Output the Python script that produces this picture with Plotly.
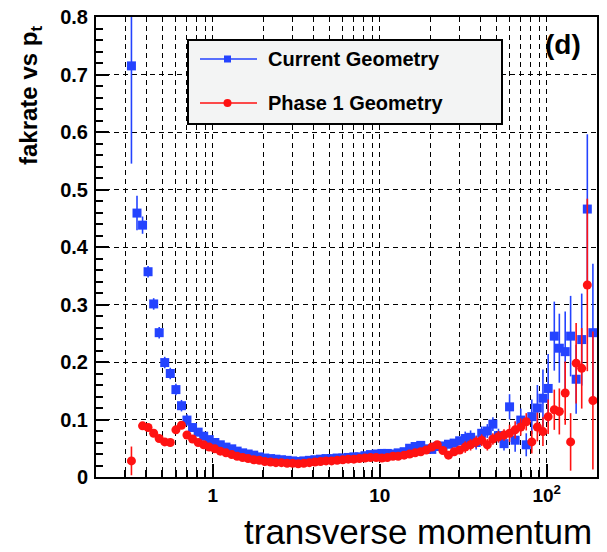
import math
import plotly.graph_objects as go

# ---------------- data ----------------
pt_bins = [0.326, 0.352, 0.380, 0.410, 0.443, 0.478, 0.516, 0.557, 0.602, 0.650,
           0.701, 0.757, 0.818, 0.883, 0.953, 1.03, 1.11, 1.20, 1.30, 1.40,
           1.51, 1.63, 1.76, 1.90, 2.05, 2.22, 2.39, 2.58, 2.79, 3.01,
           3.25, 3.51, 3.79, 4.09, 4.42, 4.77, 5.15, 5.56, 6.01, 6.48,
           7.00, 7.56, 8.16, 8.81, 9.52, 10.3, 11.1, 12.0, 12.9, 14.0,
           15.1, 16.3, 17.6, 19.0, 20.5, 22.1, 23.9, 25.8, 27.9, 30.1,
           32.5, 35.0, 37.8, 40.8, 44.1, 47.6, 51.4, 55.5, 59.9, 64.7,
           69.9, 75.4, 81.4, 87.9, 94.9, 102, 111, 119, 129, 139,
           150, 162, 175, 189]

current_rate = [0.715, 0.459, 0.438, 0.357, 0.301, 0.251, 0.199, 0.180, 0.152, 0.124,
                0.099, 0.086, 0.078, 0.071, 0.065, 0.060, 0.056, 0.052, 0.049, 0.045,
                0.042, 0.040, 0.038, 0.035, 0.033, 0.032, 0.031, 0.030, 0.029, 0.028,
                0.027, 0.028, 0.029, 0.030, 0.031, 0.032, 0.032, 0.033, 0.033, 0.034,
                0.035, 0.035, 0.037, 0.039, 0.040, 0.041, 0.041, 0.040, 0.042, 0.044,
                0.050, 0.053, 0.055, 0.049, 0.048, 0.053, 0.054, 0.057, 0.059, 0.063,
                0.067, 0.069, 0.060, 0.076, 0.080, 0.092, 0.072, 0.058, 0.122, 0.064,
                0.099, 0.056, 0.105, 0.120, 0.137, 0.154, 0.245, 0.224, 0.218, 0.245,
                0.170, 0.239, 0.466, 0.251]

current_err = [0.17, 0.03, 0.015, 0.01, 0.01, 0.01, 0.01, 0.01, 0.01, 0.01,
               0.01, 0.003, 0.003, 0.003, 0.003, 0.003, 0.003, 0.003, 0.003, 0.003,
               0.003, 0.003, 0.003, 0.003, 0.003, 0.003, 0.003, 0.003, 0.003, 0.003,
               0.003, 0.003, 0.003, 0.003, 0.003, 0.003, 0.003, 0.003, 0.003, 0.003,
               0.003, 0.003, 0.003, 0.003, 0.003, 0.003, 0.003, 0.003, 0.003, 0.003,
               0.006, 0.006, 0.006, 0.006, 0.006, 0.006, 0.006, 0.006, 0.006, 0.006,
               0.012, 0.012, 0.012, 0.012, 0.012, 0.012, 0.012, 0.012, 0.022, 0.02,
               0.02, 0.02, 0.03, 0.04, 0.05, 0.06, 0.06, 0.06, 0.07, 0.07,
               0.06, 0.08, 0.13, 0.12]

phase1_rate = [0.028, None, 0.089, 0.086, 0.076, 0.067, 0.061, 0.060, 0.082, 0.090,
               0.073, 0.066, 0.060, 0.056, 0.052, 0.049, 0.045, 0.042, 0.039, 0.036,
               0.034, 0.032, 0.030, 0.029, 0.027, 0.026, 0.025, 0.025, 0.024, 0.024,
               0.023, 0.024, 0.025, 0.026, 0.027, 0.028, 0.028, 0.029, 0.030, 0.031,
               0.031, 0.032, 0.033, 0.034, 0.034, 0.033, 0.034, 0.036, 0.036, 0.038,
               0.040, 0.042, 0.044, 0.047, 0.052, 0.056, 0.046, 0.038, 0.044, 0.047,
               0.052, 0.056, 0.061, 0.064, 0.056, 0.066, 0.070, 0.073, 0.076, 0.082,
               0.087, 0.096, 0.061, 0.087, 0.079, 0.105, 0.117, 0.114, 0.146, 0.061,
               0.198, 0.189, 0.334, 0.133]

phase1_err = [0.025, 0.0, 0.005, 0.005, 0.005, 0.005, 0.005, 0.005, 0.005, 0.005,
              0.005, 0.002, 0.002, 0.002, 0.002, 0.002, 0.002, 0.002, 0.002, 0.002,
              0.002, 0.002, 0.002, 0.002, 0.002, 0.002, 0.002, 0.002, 0.002, 0.002,
              0.002, 0.002, 0.002, 0.002, 0.002, 0.002, 0.002, 0.002, 0.002, 0.002,
              0.002, 0.002, 0.002, 0.002, 0.002, 0.002, 0.002, 0.002, 0.002, 0.002,
              0.005, 0.005, 0.005, 0.005, 0.005, 0.005, 0.005, 0.005, 0.005, 0.005,
              0.01, 0.01, 0.01, 0.01, 0.01, 0.01, 0.01, 0.01, 0.015, 0.015,
              0.015, 0.015, 0.02, 0.025, 0.025, 0.03, 0.035, 0.04, 0.055, 0.05,
              0.07, 0.07, 0.15, 0.12]

series_names = ["Current Geometry", "Phase 1 Geometry"]
y_tick_vals = [0, 0.1, 0.2, 0.3, 0.4, 0.5, 0.6, 0.7, 0.8]
y_tick_text = ["0", "0.1", "0.2", "0.3", "0.4", "0.5", "0.6", "0.7", "0.8"]
x_tick_vals = [1, 10, 100]
x_tick_text = ["1", "10", "10<sup>2</sup>"]
x_minor_vals = [0.3, 0.4, 0.5, 0.6, 0.7, 0.8, 0.9, 2, 3, 4, 5, 6, 7, 8, 9,
                20, 30, 40, 50, 60, 70, 80, 90, 200]

# ---------------- style ----------------
BLUE = "#2443ff"
RED = "#ff1212"
W, H = 607, 552
L, R, T, B = 96, 10, 17, 75
PW, PH = W - L - R, H - T - B
BOLD = dict(family="Liberation Sans, Arial, sans-serif", color="black", weight="bold")
DASH = "5px,4px"


def px(xp):
    return (xp - L) / PW


def py(yp):
    return (H - B - yp) / PH


fig = go.Figure()
fig.add_trace(go.Scatter(
    x=pt_bins, y=current_rate, mode="markers", name=series_names[0],
    marker=dict(symbol="square", size=9, color=BLUE),
    error_y=dict(type="data", array=current_err, width=0, thickness=1.6, color=BLUE),
    showlegend=False))
fig.add_trace(go.Scatter(
    x=pt_bins, y=phase1_rate, mode="markers", name=series_names[1],
    marker=dict(symbol="circle", size=9, color=RED),
    error_y=dict(type="data", array=phase1_err, width=0, thickness=1.6, color=RED),
    showlegend=False))

fig.update_xaxes(
    type="log", range=[math.log10(0.2), math.log10(200)],
    tickvals=x_tick_vals, ticktext=x_tick_text,
    tickfont=dict(size=19, **BOLD),
    ticks="inside", ticklen=13, tickwidth=1.5, tickcolor="black",
    showgrid=True, gridcolor="black", gridwidth=1.4, griddash=DASH,
    minor=dict(tickvals=x_minor_vals, ticks="inside", ticklen=7, tickwidth=1.5,
               tickcolor="black", showgrid=True, gridcolor="black", gridwidth=1.4,
               griddash=DASH),
    showline=True, linecolor="black", linewidth=2, mirror=True,
    zeroline=False)
fig.update_yaxes(
    range=[0, 0.8], tickvals=y_tick_vals, ticktext=y_tick_text,
    tickfont=dict(size=20, **BOLD),
    ticks="inside", ticklen=13, tickwidth=1.5, tickcolor="black",
    showgrid=True, gridcolor="black", gridwidth=1.4, griddash=DASH,
    minor=dict(dtick=0.02, ticks="inside", ticklen=7, tickwidth=1.5,
               tickcolor="black", showgrid=False),
    showline=True, linecolor="black", linewidth=2, mirror=True,
    zeroline=False, ticklabelstandoff=2)

shapes = []
annotations = []
# legend box
shapes.append(dict(type="rect", xref="paper", yref="paper",
                   x0=px(188), x1=px(502), y0=py(124), y1=py(40),
                   fillcolor="#f3f4f4", line=dict(color="black", width=2)))
for name, col, sym, yy in [(series_names[0], BLUE, "square", 59),
                           (series_names[1], RED, "circle", 103)]:
    shapes.append(dict(type="line", xref="paper", yref="paper",
                       x0=px(200), x1=px(257), y0=py(yy), y1=py(yy),
                       line=dict(color=col, width=1.6)))
    if sym == "square":
        shapes.append(dict(type="rect", xref="paper", yref="paper",
                           x0=px(224), x1=px(231), y0=py(yy + 3.5), y1=py(yy - 3.5),
                           fillcolor=col, line=dict(width=0)))
    else:
        shapes.append(dict(type="circle", xref="paper", yref="paper",
                           x0=px(223.5), x1=px(231.5), y0=py(yy + 4), y1=py(yy - 4),
                           fillcolor=col, line=dict(width=0)))
    annotations.append(dict(text=name, xref="paper", yref="paper",
                            x=px(266), y=py(yy), xanchor="left", yanchor="middle",
                            showarrow=False, font=dict(size=20, **BOLD)))

annotations.append(dict(text="(d)", xref="paper", yref="paper", x=px(563), y=py(44),
                        xanchor="center", yanchor="middle", showarrow=False,
                        font=dict(size=28, **BOLD)))
annotations.append(dict(text="fakrate vs p<sub>t</sub>", xref="paper", yref="paper",
                        x=px(30), y=py(96), xanchor="center", yanchor="middle",
                        textangle=-90, showarrow=False, font=dict(size=24, **BOLD)))
annotations.append(dict(text="transverse momentum", xref="paper", yref="paper",
                        x=px(418), y=py(552), xanchor="center", yanchor="bottom",
                        showarrow=False, borderpad=0,
                        font=dict(size=35, family="Liberation Sans, Arial, sans-serif",
                                  color="black")))

fig.update_layout(
    width=W, height=H, margin=dict(l=L, r=R, t=T, b=B, autoexpand=False),
    paper_bgcolor="white", plot_bgcolor="white",
    shapes=shapes, annotations=annotations, showlegend=False)

fig.write_html("out.html")
